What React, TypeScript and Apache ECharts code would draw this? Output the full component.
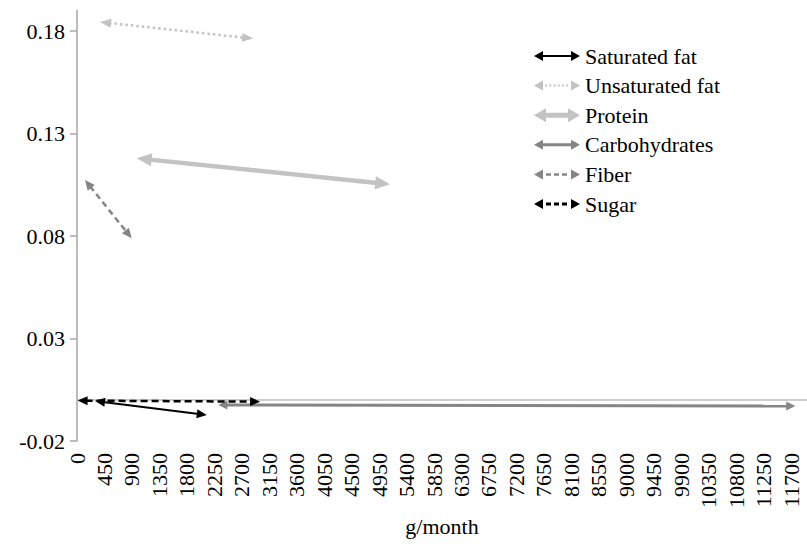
import React, { useEffect, useRef } from 'react';
import * as echarts from 'echarts';

const seriesNames = ['Saturated fat', 'Unsaturated fat', 'Protein', 'Carbohydrates', 'Fiber', 'Sugar'];
const startX = [295, 377, 978, 2316, 131, 10];
const startY = [-0.0005, 0.1844, 0.1179, -0.0024, 0.1073, -0.0003];
const endX = [2126, 2885, 5130, 11768, 896, 3000];
const endY = [-0.0073, 0.1763, 0.1052, -0.0029, 0.0789, -0.0008];

const xTicks = [0, 450, 900, 1350, 1800, 2250, 2700, 3150, 3600, 4050, 4500, 4950, 5400, 5850, 6300, 6750, 7200, 7650, 8100, 8550, 9000, 9450, 9900, 10350, 10800, 11250, 11700];
const yTicks = [-0.02, 0.03, 0.08, 0.13, 0.18];

const FONT = 'Liberation Serif';

function iconPath(headLen: number, headH: number, thick: number, pattern: string, dash: number, gap: number) {
  const W = 46;
  const c = headH / 2;
  let d = `path://M0,${c}L${headLen},0L${headLen},${headH}Z`;
  d += `M${W - headLen},0L${W},${c}L${W - headLen},${headH}Z`;
  const y0 = c - thick / 2;
  const y1 = c + thick / 2;
  if (pattern === 'solid') {
    d += `M${headLen - 1},${y0}L${W - headLen + 1},${y0}L${W - headLen + 1},${y1}L${headLen - 1},${y1}Z`;
  } else {
    let x = headLen + gap;
    while (x + dash <= W - headLen - gap + 0.01) {
      d += `M${x},${y0}L${x + dash},${y0}L${x + dash},${y1}L${x},${y1}Z`;
      x += dash + gap;
    }
  }
  return d;
}

const styles = [
  { color: '#000000', width: 2, dash: null as number[] | null, headLen: 10, headHalf: 4.5, icon: iconPath(9, 10, 2, 'solid', 0, 0) },
  { color: '#c3c3c3', width: 2.5, dash: [2.5, 3], headLen: 11, headHalf: 4.5, icon: iconPath(9, 10, 2, 'dot', 2, 2.2) },
  { color: '#c3c3c3', width: 4.5, dash: null, headLen: 15, headHalf: 6.5, icon: iconPath(12, 14, 5, 'solid', 0, 0) },
  { color: '#858585', width: 3, dash: null, headLen: 9, headHalf: 4.5, icon: iconPath(9, 10, 3, 'solid', 0, 0) },
  { color: '#858585', width: 2.5, dash: [6, 4], headLen: 10, headHalf: 4.5, icon: iconPath(9, 10, 2.5, 'dash', 5, 3) },
  { color: '#000000', width: 2.5, dash: [7, 4], headLen: 10, headHalf: 4.5, icon: iconPath(9, 10, 3, 'dash', 5, 3) },
];

export default function App() {
  const ref = useRef<HTMLDivElement>(null);
  useEffect(() => {
    if (!ref.current) return;
    const chart = echarts.init(ref.current, null, { renderer: 'svg' });
    const series = seriesNames.map((name, i) => {
      const s = styles[i];
      return {
        type: 'custom',
        name,
        xAxisIndex: 0,
        yAxisIndex: 0,
        itemStyle: { color: s.color },
        encode: { x: [0, 2], y: [1, 3] },
        data: [[startX[i], startY[i], endX[i], endY[i]]],
        renderItem: (params: any, api: any) => {
          const a = api.coord([api.value(0), api.value(1)]);
          const b = api.coord([api.value(2), api.value(3)]);
          const dx = b[0] - a[0];
          const dy = b[1] - a[1];
          const len = Math.hypot(dx, dy) || 1;
          const ux = dx / len;
          const uy = dy / len;
          const nx = -uy;
          const ny = ux;
          const L = s.headLen;
          const H = s.headHalf;
          const headA = [
            [a[0], a[1]],
            [a[0] + ux * L + nx * H, a[1] + uy * L + ny * H],
            [a[0] + ux * L - nx * H, a[1] + uy * L - ny * H],
          ];
          const headB = [
            [b[0], b[1]],
            [b[0] - ux * L + nx * H, b[1] - uy * L + ny * H],
            [b[0] - ux * L - nx * H, b[1] - uy * L - ny * H],
          ];
          const lineStyle: any = { stroke: s.color, lineWidth: s.width, fill: null };
          if (s.dash) lineStyle.lineDash = s.dash;
          return {
            type: 'group',
            children: [
              {
                type: 'line',
                shape: {
                  x1: a[0] + ux * (L - 2),
                  y1: a[1] + uy * (L - 2),
                  x2: b[0] - ux * (L - 2),
                  y2: b[1] - uy * (L - 2),
                },
                style: lineStyle,
              },
              { type: 'polygon', shape: { points: headA }, style: { fill: s.color } },
              { type: 'polygon', shape: { points: headB }, style: { fill: s.color } },
            ],
          };
        },
      };
    });

    chart.setOption({
      animation: false,
      backgroundColor: '#ffffff',
      textStyle: { fontFamily: FONT },
      grid: { left: 77, right: 0, top: 10.5, bottom: 103, outerBoundsMode: 'none', containLabel: false },
      legend: {
        orient: 'vertical',
        left: 534,
        top: 45,
        padding: 0,
        itemWidth: 46,
        itemHeight: 14,
        itemGap: 7.6,
        symbolKeepAspect: true,
        textStyle: { fontFamily: FONT, fontSize: 22, color: '#000' },
        data: seriesNames.map((n, i) => ({ name: n, icon: styles[i].icon })),
      },
      xAxis: [
        {
          type: 'value',
          min: 0,
          max: 11960,
          position: 'bottom',
          axisLine: { show: false, onZero: false },
          axisTick: { show: false },
          splitLine: { show: false },
          axisLabel: {
            customValues: xTicks,
            rotate: 90,
            margin: 12,
            fontFamily: FONT,
            fontSize: 22,
            color: '#000',
            formatter: (v: number) => String(v),
          },
          name: 'g/month',
          nameLocation: 'middle',
          nameGap: 68,
          nameTextStyle: { fontFamily: FONT, fontSize: 22, color: '#000' },
        },
        {
          type: 'value',
          min: 0,
          max: 11960,
          position: 'bottom',
          axisLine: { show: true, onZero: true, lineStyle: { color: '#bfbfbf', width: 1.5 } },
          axisTick: { show: false },
          axisLabel: { show: false },
          splitLine: { show: false },
        },
      ],
      yAxis: {
        type: 'value',
        min: -0.02,
        max: 0.19,
        interval: 0.05,
        axisLine: { show: true, onZero: false, lineStyle: { color: '#a6a6a6', width: 1.5 } },
        axisTick: { show: true, customValues: yTicks, length: 7, lineStyle: { color: '#a6a6a6', width: 1.5 } },
        splitLine: { show: false },
        axisLabel: {
          customValues: yTicks,
          margin: 12,
          fontFamily: FONT,
          fontSize: 22,
          color: '#000',
          formatter: (v: number) => v.toFixed(2),
        },
      },
      series,
    });
    return () => chart.dispose();
  }, []);
  return <div ref={ref} style={{ width: 807, height: 544, position: 'absolute', left: 0, top: 0 }} />;
}
